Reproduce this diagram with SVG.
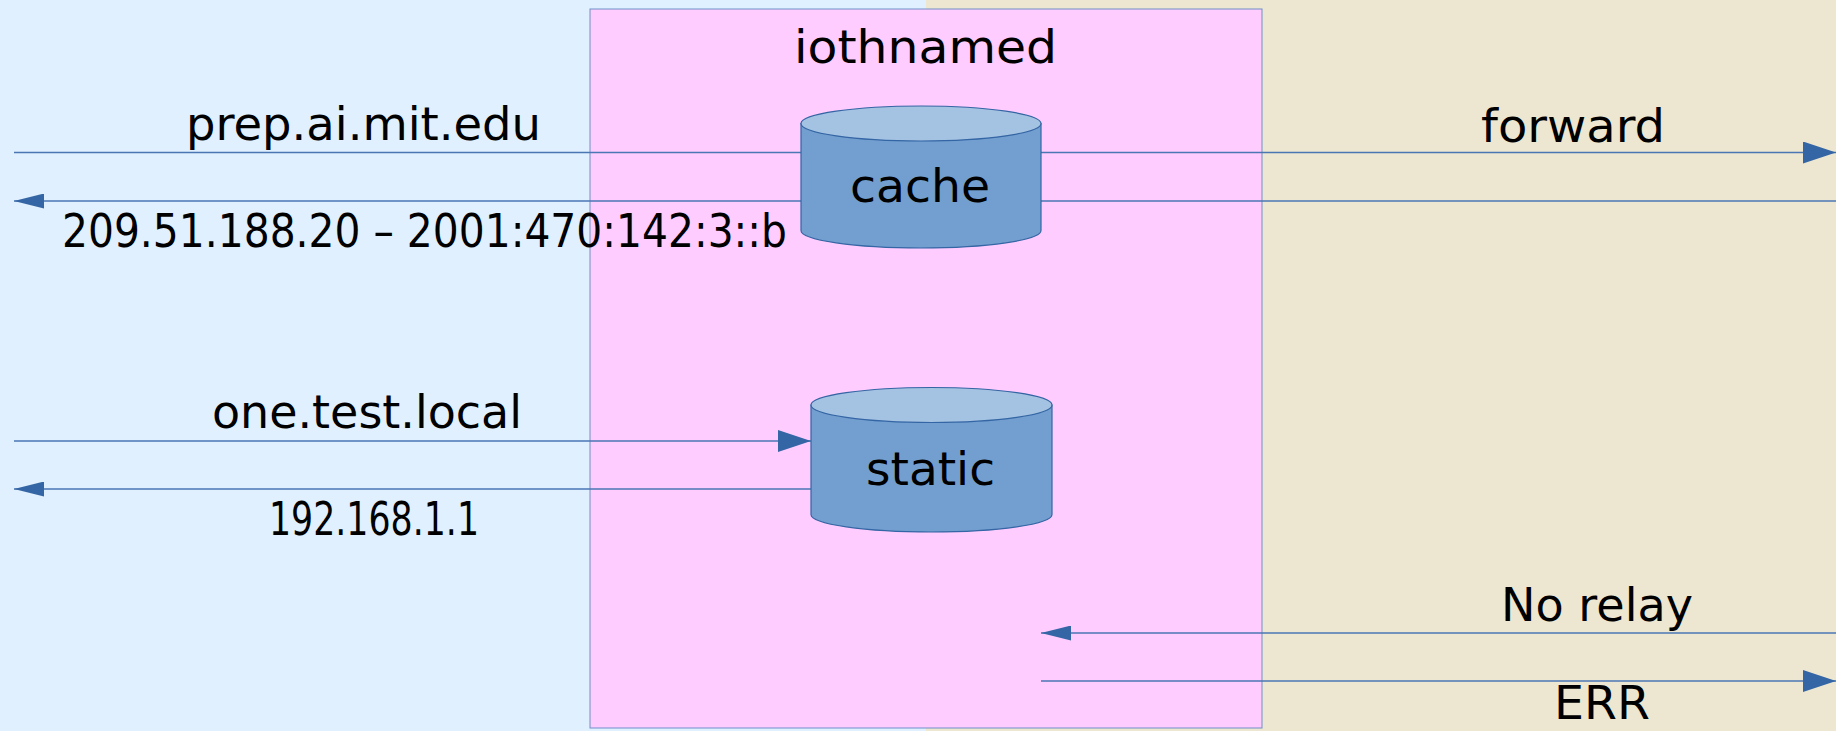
<svg xmlns="http://www.w3.org/2000/svg" width="1836" height="731" viewBox="0 0 1836 731">
<style>
.t{font-family:"DejaVu Sans","Liberation Sans",sans-serif;font-size:47px;fill:#000}
.ln{stroke:#4a76b4;stroke-width:1.4;fill:none}
.cyl{fill:#729fcf;stroke:#3465a4;stroke-width:1.2}
.cyltop{fill:#a4c2e1;stroke:#3465a4;stroke-width:1.2}
</style>
<defs>
<marker id="ar" markerUnits="userSpaceOnUse" markerWidth="33" markerHeight="22" refX="33" refY="11" orient="auto"><path d="M0,0 L33,11 L0,22 Z" fill="#3465a4"/></marker>
<marker id="al" markerUnits="userSpaceOnUse" markerWidth="30" markerHeight="15" refX="30" refY="7.5" orient="auto"><path d="M0,0 L30,7.5 L0,15 Z" fill="#3465a4"/></marker>
</defs>
<rect x="0" y="0" width="926" height="731" fill="#e0f0fe"/>
<rect x="926" y="0" width="910" height="731" fill="#ede7d1"/>
<g id="iothnamed">
<rect x="590" y="9" width="672" height="719" fill="#ffccff" stroke="#6f8fc8" stroke-width="1"/>
<text class="t" x="794" y="63" textLength="263" lengthAdjust="spacingAndGlyphs">iothnamed</text>
</g>
<g id="connectors">
<line class="ln" x1="14" y1="152.5" x2="1836" y2="152.5" marker-end="url(#ar)"/>
<line class="ln" x1="1836" y1="201" x2="14" y2="201" marker-end="url(#al)"/>
<line class="ln" x1="14" y1="441" x2="811" y2="441" marker-end="url(#ar)"/>
<line class="ln" x1="811" y1="489" x2="14" y2="489" marker-end="url(#al)"/>
<line class="ln" x1="1836" y1="633" x2="1041" y2="633" marker-end="url(#al)"/>
<line class="ln" x1="1041" y1="681" x2="1836" y2="681" marker-end="url(#ar)"/>
<text class="t" x="186" y="140" textLength="355" lengthAdjust="spacingAndGlyphs">prep.ai.mit.edu</text>
<text class="t" x="62" y="247" textLength="725" lengthAdjust="spacingAndGlyphs">209.51.188.20 – 2001:470:142:3::b</text>
<text class="t" x="1481" y="141.5" textLength="184" lengthAdjust="spacingAndGlyphs">forward</text>
<text class="t" x="212" y="428" textLength="310" lengthAdjust="spacingAndGlyphs">one.test.local</text>
<text class="t" x="269" y="535" textLength="210" lengthAdjust="spacingAndGlyphs">192.168.1.1</text>
<text class="t" x="1501" y="620.5" textLength="192" lengthAdjust="spacingAndGlyphs">No relay</text>
<text class="t" x="1554" y="719" textLength="96" lengthAdjust="spacingAndGlyphs">ERR</text>
</g>
<g id="cache">
<path class="cyl" d="M801,123.5 V230.5 A120,17.5 0 0 0 1041,230.5 V123.5 Z"/>
<ellipse class="cyltop" cx="921" cy="123.5" rx="120" ry="17.5"/>
<text class="t" x="850" y="202" textLength="140" lengthAdjust="spacingAndGlyphs">cache</text>
</g>
<g id="static">
<path class="cyl" d="M811,405 V514.5 A120.5,17.5 0 0 0 1052,514.5 V405 Z"/>
<ellipse class="cyltop" cx="931.5" cy="405" rx="120.5" ry="17.5"/>
<text class="t" x="866" y="485" textLength="129" lengthAdjust="spacingAndGlyphs">static</text>
</g>
</svg>
